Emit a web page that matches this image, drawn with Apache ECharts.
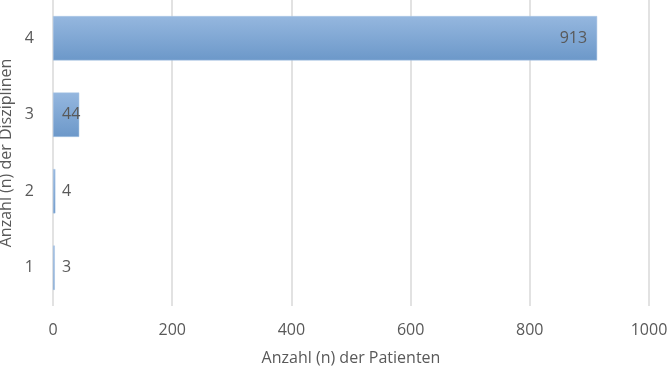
<!DOCTYPE html>
<html>
<head>
<meta charset="utf-8">
<script src="https://cdn.jsdelivr.net/npm/echarts@6/dist/echarts.min.js"></script>
<style>html,body{margin:0;padding:0;background:#fff}#c{width:669px;height:369px}</style>
</head>
<body>
<div id="c"></div>
<script>
const categories = ['1', '2', '3', '4'];
const values = [3, 4, 44, 913];
const xTicks = [0, 200, 400, 600, 800, 1000];

const font = '"Open Sans", sans-serif';
const txt = '#595959';
const chart = echarts.init(document.getElementById('c'));
chart.setOption({
  animation: false,
  grid: { left: 53, right: 20, top: 0, bottom: 63, containLabel: false, outerBoundsMode: 'none' },
  xAxis: {
    type: 'value', min: xTicks[0], max: xTicks[xTicks.length - 1], interval: 200,
    name: 'Anzahl (n) der Patienten', nameLocation: 'middle', nameGap: 44,
    nameTextStyle: { color: txt, fontFamily: font, fontSize: 16 },
    axisLine: { show: false }, axisTick: { show: false },
    axisLabel: { color: txt, fontFamily: font, fontSize: 16, margin: 16, formatter: v => String(v) },
    splitLine: { show: true, lineStyle: { color: '#d9d9d9', width: 1.5 } }
  },
  yAxis: {
    type: 'category', data: categories,
    name: 'Anzahl (n) der Disziplinen', nameLocation: 'middle', nameGap: 33,
    nameTextStyle: { color: txt, fontFamily: font, fontSize: 16 },
    axisLine: { show: false }, axisTick: { show: false },
    axisLabel: { color: txt, fontFamily: font, fontSize: 16, margin: 19 }
  },
  series: [{
    type: 'bar', barWidth: '58%',
    data: values.map((v, i) => ({
      value: v,
      label: v > 100 ? { position: 'insideRight', distance: 10 } : { position: 'insideLeft', distance: 9 }
    })),
    itemStyle: {
      color: new echarts.graphic.LinearGradient(0, 0, 0, 1, [
        { offset: 0, color: '#95b7df' },
        { offset: 1, color: '#6c98c9' }
      ]),
      borderColor: '#a9c4e4', borderWidth: 0.5
    },
    label: { show: true, color: txt, fontFamily: font, fontSize: 16 }
  }]
});
</script>
</body>
</html>
